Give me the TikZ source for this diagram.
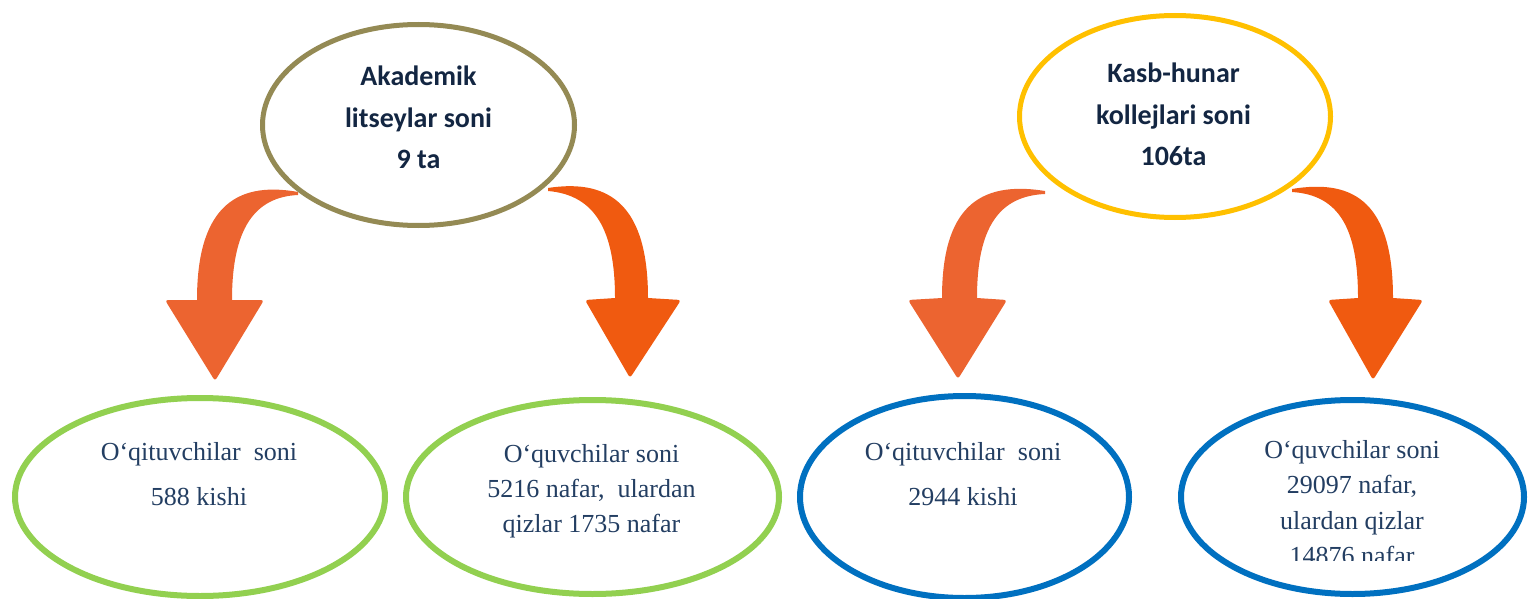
\documentclass[tikz,border=0pt]{standalone}
\usepackage{fontspec}
\setmainfont{Liberation Serif}
\newfontfamily\calib{Carlito}
\usetikzlibrary{shapes.geometric}
\definecolor{myolive}{HTML}{948A54}
\definecolor{mygold}{HTML}{FFC000}
\definecolor{mygreen}{HTML}{92D050}
\definecolor{myblue}{HTML}{0070C0}
\definecolor{arrowA}{HTML}{EC6430}
\definecolor{arrowB}{HTML}{F05A10}
\definecolor{toptext}{HTML}{132642}
\definecolor{bottext}{HTML}{233E62}
\begin{document}
\begin{tikzpicture}[x=1pt,y=-1pt,
  ell/.style={draw, ellipse, inner sep=0pt, fill=white},
  topell/.style={ell, line width=5pt},
  botell/.style={ell, line width=6pt},
  toptxt/.style={anchor=north, inner sep=0pt, align=center, text=toptext,
     font=\calib\bfseries\fontsize{28}{41.5}\selectfont},
  bottxt/.style={anchor=north, inner sep=0pt, align=center, text=bottext,
     font=\fontsize{26}{#1}\selectfont},
  bottxt/.default=45]
\useasboundingbox (0,0) rectangle (1528,599);
\clip (0,0) rectangle (1528,599);

% curved arrows (drawn first, behind the top ellipses)
\fill[arrowA] (298,192) .. controls (232,180) and (197,212) .. (197,300)
  [rounded corners=3pt] -- (165,300) -- (215,381) -- (264,300) [sharp corners] -- (232,300)
  .. controls (232,228) and (255,197) .. (298,195) -- cycle;
\fill[arrowB] (548,188) .. controls (612,178) and (648,208) .. (648,298)
  [rounded corners=3pt] -- (681,300) -- (630,378) -- (585,300) [sharp corners] -- (615,298)
  .. controls (615,230) and (595,195) .. (548,191) -- cycle;
\fill[arrowA] (1045,191) .. controls (977,180) and (942,210) .. (942,298)
  [rounded corners=3pt] -- (908,300) -- (958,379) -- (1007,300) [sharp corners] -- (977,298)
  .. controls (977,226) and (1000,196) .. (1045,194) -- cycle;
\fill[arrowB] (1292,189) .. controls (1357,178) and (1393,206) .. (1393,298)
  [rounded corners=3pt] -- (1423,300) -- (1373,380) -- (1328,300) [sharp corners] -- (1358,298)
  .. controls (1358,230) and (1340,195) .. (1292,192) -- cycle;

% top ellipses
\node[topell, draw=myolive, minimum width=312pt, minimum height=201pt] (al) at (418.5,125) {};
\node[topell, draw=mygold, minimum width=311pt, minimum height=202pt] (kh) at (1175,116.5) {};
\node[toptxt] (alt) at (418.5,65.7) {Akademik\\litseylar soni\\9 ta};
\node[toptxt] (kht) at (1173.5,62.7) {Kasb-hunar\\kollejlari soni\\106ta};

% bottom ellipses
\node[botell, draw=mygreen, minimum width=370pt, minimum height=198pt] (g1) at (200,497) {};
\node[botell, draw=mygreen, minimum width=373pt, minimum height=194pt] (g2) at (592.5,497) {};
\node[botell, draw=myblue, minimum width=329pt, minimum height=202pt] (b1) at (964.5,497) {};
\node[botell, draw=myblue, minimum width=343pt, minimum height=194pt] (b2) at (1352.5,497) {};

\node[bottxt] (g1t) at (199,442.2) {O‘qituvchilar\ \ soni\\588 kishi};
\node[bottxt=35] (g2t) at (591.5,444.2) {O‘quvchilar soni\\5216 nafar,\ \ ulardan\\qizlar 1735 nafar};
\node[bottxt] (b1t) at (963,442.2) {O‘qituvchilar\ \ soni\\2944 kishi};
\begin{scope}
\clip (1180,380) rectangle (1525,560);
\node[bottxt=35.3] (b2t) at (1352,440.2) {O‘quvchilar soni\\29097 nafar,\\ulardan qizlar\\14876 nafar};
\end{scope}
\end{tikzpicture}
\end{document}
